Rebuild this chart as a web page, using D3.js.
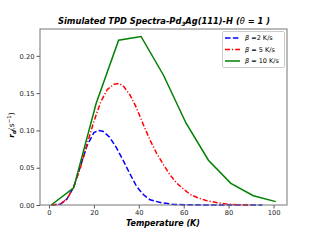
<!DOCTYPE html>
<html>
<head>
<meta charset="utf-8">
<script src="https://cdn.jsdelivr.net/npm/d3@7"></script>
<style>
  body { margin: 0; background: #fff; }
  text { font-family: "DejaVu Sans", sans-serif; }
</style>
</head>
<body>
<script>
const width = 320
const height = 240

/* Series data. */
const blueT = [1, 5, 8, 11, 14, 17, 20, 22, 24, 27, 30, 33, 36, 39, 42, 45, 50, 55, 60, 70, 80, 95]
const blueR = [0, 0.001, 0.008, 0.024, 0.052, 0.080, 0.097, 0.100, 0.099, 0.091, 0.077, 0.060, 0.042, 0.025, 0.014, 0.007, 0.003, 0.001, 0.0005, 0, 0, 0]

const redT = [1, 5, 8, 11, 14, 17, 20, 23, 26, 29, 31, 33, 36, 39, 42, 45, 48, 51, 54, 57, 60, 63, 66, 70, 75, 80, 85, 90]
const redR = [0, 0.001, 0.008, 0.024, 0.050, 0.082, 0.112, 0.138, 0.155, 0.162, 0.163, 0.160, 0.148, 0.130, 0.108, 0.087, 0.069, 0.054, 0.040, 0.029, 0.021, 0.014, 0.010, 0.006, 0.003, 0.001, 0.0003, 0]

const greenT = [1, 11, 21, 31, 41, 51, 61, 71, 81, 91, 101]
const greenR = [0, 0.023, 0.136, 0.221, 0.226, 0.174, 0.110, 0.060, 0.029, 0.0125, 0.0045]

const xTicks = [0, 20, 40, 60, 80, 100]
const yTicks = [0, 0.05, 0.10, 0.15, 0.20]

const series = [
  {t: blueT, r: blueR, color: "blue", dash: "5.5,2.4", label: "=2 K/s"},
  {t: redT, r: redR, color: "red", dash: "5,2,1.2,2", label: "= 5 K/s"},
  {t: greenT, r: greenR, color: "green", dash: null, label: "= 10 K/s"}
]

const margin = {left: 40, right: 33, top: 29, bottom: 35}

const x = d3.scaleLinear().domain([-4, 106]).range([margin.left, width - margin.right])
const y = d3.scaleLinear().domain([0, 0.236]).range([height - margin.bottom, margin.top])

const svg = d3.select("body").append("svg")
  .attr("width", width)
  .attr("height", height)

/* Lines */
const line = d3.line().x(d => x(d[0])).y(d => y(d[1]))
const plot = svg.append("g")
series.forEach(s => {
  plot.append("path")
    .attr("d", line(s.t.map((t, i) => [t, s.r[i]])))
    .attr("fill", "none")
    .attr("stroke", s.color)
    .attr("stroke-width", 1.5)
    .attr("stroke-dasharray", s.dash)
})

/* Axes */
const xAxis = svg.append("g")
  .attr("transform", `translate(0,${height - margin.bottom})`)
  .call(d3.axisBottom(x).tickValues(xTicks).tickSize(3.5).tickPadding(2))
const yAxis = svg.append("g")
  .attr("transform", `translate(${margin.left},0)`)
  .call(d3.axisLeft(y).tickValues(yTicks).tickFormat(d3.format(".2f")).tickSize(3.5).tickPadding(2))

;[xAxis, yAxis].forEach(a => {
  a.select(".domain").remove()
  a.selectAll(".tick line").attr("stroke", "#555")
  a.selectAll(".tick text").attr("font-size", 6.7).attr("fill", "#222")
})

/* Frame */
svg.append("rect")
  .attr("x", margin.left)
  .attr("y", margin.top)
  .attr("width", width - margin.left - margin.right)
  .attr("height", height - margin.top - margin.bottom)
  .attr("fill", "none")
  .attr("stroke", "#777")
  .attr("stroke-width", 1)

/* Title */
const title = svg.append("text")
  .attr("x", 164)
  .attr("y", 24)
  .attr("text-anchor", "middle")
  .attr("font-size", 8.3)
  .attr("font-weight", "bold")
  .attr("font-style", "italic")
title.append("tspan").text("Simulated TPD Spectra-Pd")
title.append("tspan").attr("font-size", 5.7).attr("dy", 2).text("3")
title.append("tspan").attr("dy", -2).text("Ag(111)-H (")
title.append("tspan").attr("font-weight", "normal").text("θ")
title.append("tspan").text(" = 1 )")

/* Axis labels */
svg.append("text")
  .attr("x", 163)
  .attr("y", 226)
  .attr("text-anchor", "middle")
  .attr("font-size", 8)
  .attr("font-weight", "bold")
  .attr("font-style", "italic")
  .text("Temperature (K)")

const yl = svg.append("text")
  .attr("transform", "translate(14,125) rotate(-90)")
  .attr("text-anchor", "middle")
  .attr("font-size", 7.5)
yl.append("tspan").attr("font-weight", "bold").attr("font-style", "italic").text("r")
yl.append("tspan").attr("font-weight", "bold").attr("font-style", "italic").attr("font-size", 5.5).attr("dy", 1.5).text("d")
yl.append("tspan").attr("dy", -1.5).text("(s")
yl.append("tspan").attr("font-size", 5.5).attr("dy", -3).text("−1")
yl.append("tspan").attr("dy", 3).text(")")

/* Legend */
const lg = svg.append("g")
lg.append("rect")
  .attr("x", 222.5).attr("y", 31.5)
  .attr("width", 62).attr("height", 36)
  .attr("rx", 1.5)
  .attr("fill", "#fff").attr("fill-opacity", 0.8)
  .attr("stroke", "#ccc")
series.forEach((s, i) => {
  const yy = 38 + i * 11.5
  lg.append("line")
    .attr("x1", 225).attr("x2", 240)
    .attr("y1", yy).attr("y2", yy)
    .attr("stroke", s.color).attr("stroke-width", 1.5)
    .attr("stroke-dasharray", s.dash)
  const t = lg.append("text")
    .attr("x", 245).attr("y", yy + 2.3)
    .attr("font-size", 6.5)
  t.append("tspan").attr("font-style", "italic").text("β ")
  t.append("tspan").text(s.label)
})
</script>
</body>
</html>
